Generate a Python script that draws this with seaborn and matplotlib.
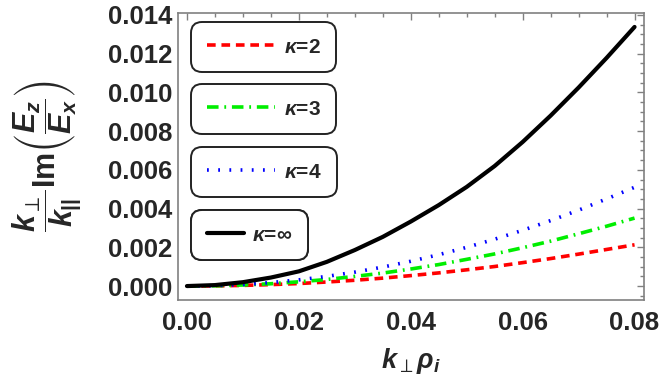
import numpy as np
import pandas as pd
import matplotlib
matplotlib.use("Agg")
import matplotlib.pyplot as plt
from matplotlib.ticker import MultipleLocator, FormatStrFormatter
import seaborn as sns

# values
k_rho = [0.0, 0.005, 0.01, 0.015, 0.02, 0.025, 0.03, 0.035, 0.04,
         0.045, 0.05, 0.055, 0.06, 0.065, 0.07, 0.075, 0.08]
kappa_2 = [0, 0.000008, 0.000034, 0.000075, 0.00013, 0.00021, 0.00030, 0.00041, 0.00054,
           0.00068, 0.00084, 0.00101, 0.00121, 0.00142, 0.00165, 0.00189, 0.00213]
kappa_3 = [0, 0.000014, 0.000055, 0.00012, 0.00022, 0.00034, 0.00050, 0.00067, 0.00088,
           0.00111, 0.00138, 0.00166, 0.00198, 0.00232, 0.00270, 0.00309, 0.00351]
kappa_4 = [0, 0.00002, 0.00008, 0.00018, 0.00032, 0.00050, 0.00072, 0.00098, 0.00128,
           0.00162, 0.00200, 0.00242, 0.00288, 0.00338, 0.00392, 0.00450, 0.00510]
kappa_inf = [0, 0.00005, 0.00020, 0.00044, 0.00076, 0.00125, 0.00186, 0.00254, 0.00333,
             0.00418, 0.00512, 0.00620, 0.00744, 0.00880, 0.01025, 0.01178, 0.01338]

labels = [r"$\kappa$=2", r"$\kappa$=3", r"$\kappa$=4", r"$\kappa$=$\infty$"]
series = [kappa_2, kappa_3, kappa_4, kappa_inf]
colors = ["#ff0000", "#00ee00", "#0000ff", "#000000"]
dashes = [(2.4, 1.6), (3.2, 1.6, 0.5, 1.6), (0.5, 2.6), ()]

sns.set_style("white")
plt.rcParams["font.family"] = "sans-serif"
plt.rcParams["font.sans-serif"] = ["Liberation Sans"]
plt.rcParams["mathtext.fontset"] = "custom"
plt.rcParams["mathtext.rm"] = "Liberation Sans:bold"
plt.rcParams["mathtext.it"] = "Liberation Sans:italic:bold"
plt.rcParams["mathtext.bf"] = "Liberation Sans:bold"
plt.rcParams["mathtext.sf"] = "DejaVu Sans"
plt.rcParams["mathtext.fallback"] = "stixsans"

fig = plt.figure(figsize=(6.6, 3.8), dpi=100)
ax = fig.add_axes([0.2697, 0.2105, 0.7053, 0.7553])

handles = []
for y, lab, c, d in zip(series, labels, colors, dashes):
    df = pd.DataFrame({"x": k_rho, "y": y})
    sns.lineplot(data=df, x="x", y="y", ax=ax, color=c, linewidth=2.6 if d else 3.0,
                 legend=False)
    ln = ax.lines[-1]
    if d:
        ln.set_dashes(d)
    ln.set_label(lab)
    handles.append(ln)

ax.set_xlim(-0.0016, 0.0816)
ax.set_ylim(-0.00072, 0.0141)
ax.xaxis.set_major_locator(MultipleLocator(0.02))
ax.xaxis.set_minor_locator(MultipleLocator(0.005))
ax.yaxis.set_major_locator(MultipleLocator(0.002))
ax.yaxis.set_minor_locator(MultipleLocator(0.0005))
ax.xaxis.set_major_formatter(FormatStrFormatter("%.2f"))
ax.yaxis.set_major_formatter(FormatStrFormatter("%.3f"))

ax.tick_params(which="both", direction="in", top=True, right=True, color="#808080",
               labelsize=18.5, width=1)
ax.tick_params(which="major", length=5)
ax.tick_params(which="minor", length=3)
ax.tick_params(axis="x", pad=8)
ax.tick_params(axis="y", pad=4)
for lab in ax.get_xticklabels() + ax.get_yticklabels():
    lab.set_fontweight("bold")
for sp in ax.spines.values():
    sp.set_color("#808080")
    sp.set_linewidth(1.2)

perp = r"\mathsf{\perp}"
ax.set_xlabel(r"$k_{%s}\rho_i$" % perp, fontsize=19.5)
ax.set_ylabel(r"$\dfrac{k_{%s}}{k_{||}}\mathrm{Im}\left(\dfrac{E_z}{E_x}\right)$" % perp,
              fontsize=22)
ax.xaxis.set_label_coords(0.5, -0.16)
ax.yaxis.set_label_coords(-0.205, 0.5)

# separate rounded legend boxes, one per curve
tops = [0.969, 0.753, 0.533, 0.314]
for i, h in enumerate(handles):
    leg = ax.legend(handles=[h], loc="upper left", bbox_to_anchor=(0.028, tops[i]),
                    prop={"size": 15, "weight": "bold"}, frameon=True, fancybox=True,
                    handlelength=3.3 if i < 3 else 1.8, handletextpad=0.4,
                    borderpad=0.75, borderaxespad=0)
    fr = leg.get_frame()
    fr.set_boxstyle("round,pad=0,rounding_size=0.55")
    fr.set_edgecolor("#222222")
    fr.set_linewidth(1.4)
    fr.set_alpha(1)
    ax.add_artist(leg)

fig.savefig("out.png", dpi=100)
